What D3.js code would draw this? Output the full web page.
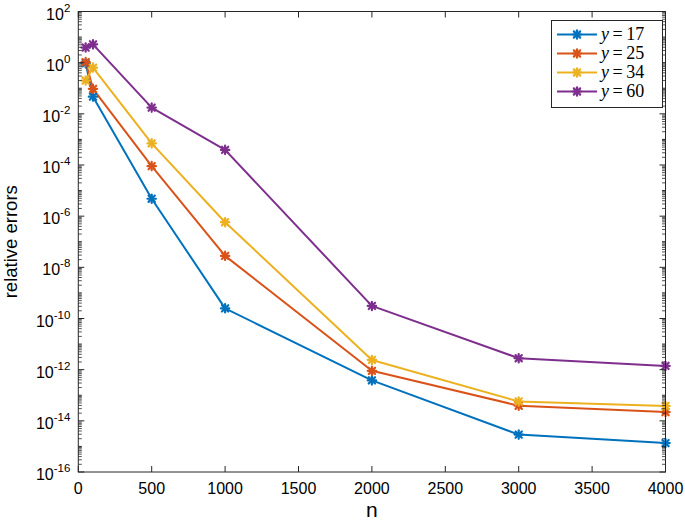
<!DOCTYPE html>
<html><head><meta charset="utf-8">
<script src="https://cdn.jsdelivr.net/npm/d3@7"></script>
<style>body{margin:0;background:#fff}svg{display:block}</style>
</head><body>
<svg id="c" width="685" height="527"></svg>
<script>
const nValues = [50, 100, 500, 1000, 2000, 3000, 4000];
const errY17 = [0.95, 0.047, 4.8e-6, 2.5e-10, 3.8e-13, 2.9e-15, 1.35e-15];
const errY25 = [1.05, 0.095, 9.0e-5, 2.8e-8, 9.0e-13, 3.9e-14, 2.2e-14];
const errY34 = [0.2, 0.64, 7.0e-4, 5.8e-7, 2.4e-12, 5.7e-14, 3.8e-14];
const errY60 = [3.9, 5.2, 0.0175, 3.9e-4, 3.1e-10, 2.8e-12, 1.4e-12];
const seriesNames = ["17", "25", "34", "60"];
const seriesColors = ["#0072BD", "#D95319", "#EDB120", "#7E2F8E"];
const xTicks = [0, 500, 1000, 1500, 2000, 2500, 3000, 3500, 4000];
const yTickExps = [2, 0, -2, -4, -6, -8, -10, -12, -14, -16];

const series = [errY17, errY25, errY34, errY60].map((v, i) => ({name: seriesNames[i], color: seriesColors[i], values: v}));

const svg = d3.select("#c");
const L = 78.3, R = 665.5, T = 11.5, B = 472;
const x = d3.scaleLinear().domain([0, 4000]).range([L, R]);
const y = d3.scaleLog().domain([1e-16, 1e2]).range([B, T]);
const axisColor = "#262626";
const font = "'Liberation Sans', Arial, Helvetica, sans-serif";

// data lines
const line = d3.line().x((d, i) => x(nValues[i])).y(d => y(d));
const g = svg.append("g");
series.forEach(s => {
  g.append("path").datum(s.values).attr("d", line).attr("fill", "none")
    .attr("stroke", s.color).attr("stroke-width", 2).attr("stroke-linejoin", "round");
});
function star(sel, cx, cy, color) {
  const r = 4.2;
  const gg = sel.append("g").attr("transform", `translate(${cx},${cy})`)
    .attr("stroke", color).attr("stroke-width", 2.2).attr("stroke-linecap", "round");
  gg.append("line").attr("x1", -r).attr("x2", r).attr("y1", 0).attr("y2", 0);
  gg.append("line").attr("x1", 0).attr("x2", 0).attr("y1", -r).attr("y2", r);
  const d = r * 0.75;
  gg.append("line").attr("x1", -d).attr("x2", d).attr("y1", -d).attr("y2", d);
  gg.append("line").attr("x1", -d).attr("x2", d).attr("y1", d).attr("y2", -d);
  gg.append("circle").attr("r", 2.4).attr("fill", color).attr("stroke", "none");
}
series.forEach(s => {
  s.values.forEach((v, i) => star(g, x(nValues[i]), y(v), s.color));
});

// axes box
const ax = svg.append("g");
ax.append("rect").attr("x", L).attr("y", T).attr("width", R - L).attr("height", B - T)
  .attr("fill", "none").attr("stroke", axisColor).attr("stroke-width", 1);

// x ticks
xTicks.forEach(t => {
  const px = x(t);
  ax.append("line").attr("x1", px).attr("x2", px).attr("y1", B).attr("y2", B - 6).attr("stroke", axisColor);
  ax.append("line").attr("x1", px).attr("x2", px).attr("y1", T).attr("y2", T + 6).attr("stroke", axisColor);
  ax.append("text").attr("x", px).attr("y", B + 22).attr("text-anchor", "middle")
    .attr("font-family", font).attr("font-size", 16).attr("fill", "#000").text(t);
});

// y ticks: major every decade labeled every 2, minor 2..9
for (let e = -16; e <= 2; e++) {
  const major = yTickExps.includes(e);
  const py = y(Math.pow(10, e));
  const len = major ? 6 : 3.5;
  ax.append("line").attr("x1", L).attr("x2", L + len).attr("y1", py).attr("y2", py).attr("stroke", axisColor);
  ax.append("line").attr("x1", R).attr("x2", R - len).attr("y1", py).attr("y2", py).attr("stroke", axisColor);
  if (e < 2) {
    for (let m = 2; m <= 9; m++) {
      const pm = y(m * Math.pow(10, e));
      ax.append("line").attr("x1", L).attr("x2", L + 3.5).attr("y1", pm).attr("y2", pm).attr("stroke", axisColor).attr("stroke-width", 0.8);
      ax.append("line").attr("x1", R).attr("x2", R - 3.5).attr("y1", pm).attr("y2", pm).attr("stroke", axisColor).attr("stroke-width", 0.8);
    }
  }
}
yTickExps.forEach(e => {
  const py = y(Math.pow(10, e));
  const t = ax.append("text").attr("x", L - 8).attr("y", py + 8).attr("text-anchor", "end")
    .attr("font-family", font).attr("font-size", 16).attr("fill", "#000");
  t.append("tspan").text("10");
  t.append("tspan").attr("dy", -8).attr("font-size", 11.5).text(String(e));
});

// axis labels
svg.append("text").attr("x", (L + R) / 2).attr("y", 517).attr("text-anchor", "middle")
  .attr("font-family", font).attr("font-size", 21).attr("fill", "#000").text("n");
svg.append("text").attr("transform", `translate(17,${(T + B) / 2}) rotate(-90)`).attr("text-anchor", "middle")
  .attr("font-family", font).attr("font-size", 18.5).attr("fill", "#000").text("relative errors");

// legend
const lg = svg.append("g");
lg.append("rect").attr("x", 551.5).attr("y", 20.5).attr("width", 111).attr("height", 87)
  .attr("fill", "#fff").attr("stroke", axisColor).attr("stroke-width", 1);
series.forEach((s, i) => {
  const ly = 34.5 + i * 19;
  lg.append("line").attr("x1", 557).attr("x2", 597).attr("y1", ly).attr("y2", ly)
    .attr("stroke", s.color).attr("stroke-width", 2);
  star(lg, 577, ly, s.color);
  const t = lg.append("text").attr("x", 601).attr("y", ly + 5.5)
    .attr("font-family", "'Liberation Serif','DejaVu Serif',serif").attr("font-size", 18).attr("fill", "#000");
  t.append("tspan").attr("font-style", "italic").text("y");
  t.append("tspan").text("\u2009=\u2009" + s.name);
});
</script>
</body></html>
